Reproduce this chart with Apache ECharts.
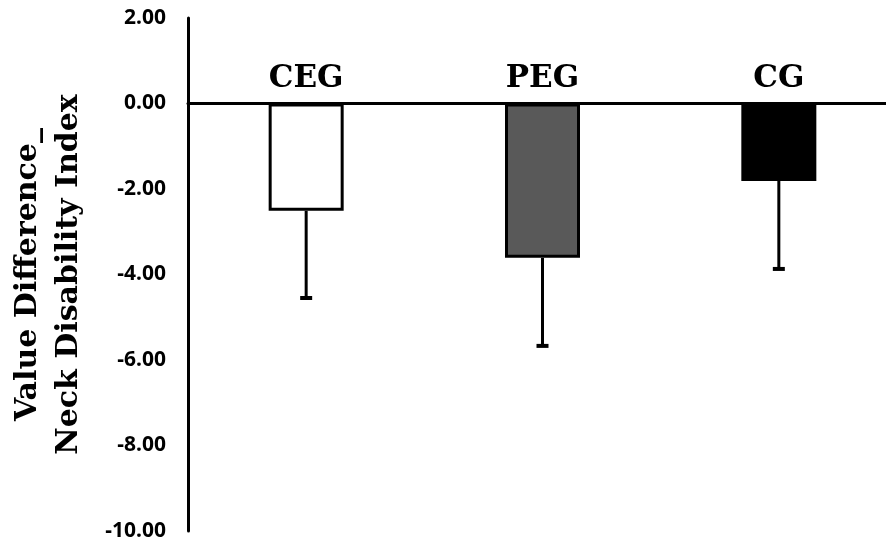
<!DOCTYPE html>
<html>
<head>
<meta charset="utf-8">
<script src="https://cdn.jsdelivr.net/npm/echarts@6/dist/echarts.min.js"></script>
<style>html,body{margin:0;padding:0;background:#fff}#c{width:886px;height:551px}</style>
</head>
<body>
<div id="c"></div>
<script>
const categories = ['CEG', 'PEG', 'CG'];
const means = [-2.51, -3.61, -1.81];
const errors = [2.04, 2.06, 2.06];
const barColors = ['#ffffff', '#595959', '#000000'];
const yTicks = { min: -10, max: 2, interval: 2 };
const yTitle = 'Value Difference_\nNeck Disability Index';

const chart = echarts.init(document.getElementById('c'), null, { renderer: 'canvas' });
chart.setOption({
  animation: false,
  backgroundColor: '#ffffff',
  grid: { left: 188, right: -11, top: 18, bottom: 20, containLabel: false, outerBoundsMode: 'none' },
  xAxis: {
    type: 'category',
    data: categories,
    axisLine: { show: true, onZero: true, lineStyle: { color: '#000', width: 3 } },
    axisTick: { show: false },
    axisLabel: { show: false },
    splitLine: { show: false }
  },
  yAxis: {
    type: 'value',
    min: yTicks.min, max: yTicks.max, interval: yTicks.interval,
    axisLine: { show: true, lineStyle: { color: '#000', width: 3 } },
    axisTick: { show: false },
    splitLine: { show: false },
    axisLabel: {
      margin: 22,
      formatter: v => v.toFixed(2),
      fontFamily: 'Noto Sans', fontWeight: 'bold', fontSize: 21, color: '#000'
    },
    name: yTitle,
    nameLocation: 'middle',
    nameGap: 98,
    nameTextStyle: {
      fontFamily: 'DejaVu Serif', fontWeight: 'bold', fontSize: 30, color: '#000',
      lineHeight: 41, align: 'center'
    }
  },
  series: [
    {
      type: 'bar',
      barWidth: 75,
      data: means.map((v, i) => ({
        value: v,
        itemStyle: { color: barColors[i], borderColor: '#000', borderWidth: 3 }
      })),
      z: 2
    },
    {
      type: 'custom',
      z: 3,
      data: means.map((v, i) => [i, v, errors[i]]),
      renderItem: function (params, api) {
        const i = api.value(0), v = api.value(1), e = api.value(2);
        const p0 = api.coord([i, v]);
        const p1 = api.coord([i, v - e]);
        const pz = api.coord([i, 0]);
        return {
          type: 'group',
          children: [
            { type: 'line', shape: { x1: p0[0], y1: p0[1], x2: p1[0], y2: p1[1] },
              style: { stroke: '#000', lineWidth: 3 } },
            { type: 'line', shape: { x1: p1[0] - 6, y1: p1[1], x2: p1[0] + 6, y2: p1[1] },
              style: { stroke: '#000', lineWidth: 4 } },
            { type: 'text', x: pz[0], y: pz[1] - 9,
              style: { text: categories[i], fill: '#000', align: 'center', verticalAlign: 'bottom',
                       font: 'bold 31px "DejaVu Serif"' } }
          ]
        };
      }
    }
  ]
});
</script>
</body>
</html>
